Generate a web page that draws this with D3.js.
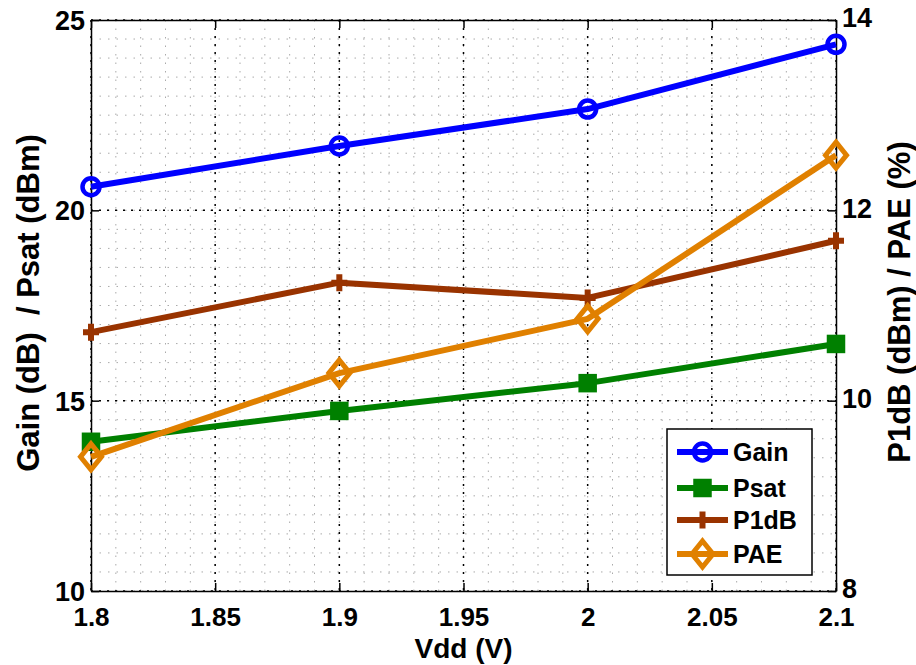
<!DOCTYPE html>
<html><head><meta charset="utf-8">
<script src="https://cdn.jsdelivr.net/npm/d3@7"></script>
<style>body{margin:0;background:#fff}svg{display:block}text{font-family:"Liberation Sans",Arial,sans-serif;font-weight:bold;fill:#000}</style>
</head><body>
<script>
const vdd = [1.8, 1.9, 2.0, 2.1];
const gain = [20.62, 21.69, 22.66, 24.36];
const psat = [13.92, 14.73, 15.46, 16.49];
const p1db = [10.72, 11.24, 11.08, 11.68];
const pae = [9.41, 10.29, 10.86, 12.58];
const xTicks = [1.8, 1.85, 1.9, 1.95, 2.0, 2.05, 2.1];
const xTickLabels = ["1.8", "1.85", "1.9", "1.95", "2", "2.05", "2.1"];
const yLeftTicks = [10, 15, 20, 25];
const yRightTicks = [8, 10, 12, 14];
const seriesNames = ["Gain", "Psat", "P1dB", "PAE"];
const colors = ["#0000ff", "#008000", "#993300", "#e08000"];

const W = 916, H = 665;
const L = 91, R = 836, T = 20, B = 591;
const svg = d3.select("body").append("svg").attr("width", W).attr("height", H);

const x = d3.scaleLinear().domain([1.8, 2.1]).range([L, R]);
const yL = d3.scaleLinear().domain([10, 25]).range([B, T]);
const yR = d3.scaleLinear().domain([8, 14]).range([B, T]);

// minor grid
const g = svg.append("g");
const minorX = d3.range(0, 31).map(i => 1.8 + i * 0.01);
const minorY = d3.range(0, 31).map(i => 10 + i * 0.5);
g.selectAll(".mx").data(minorX).enter().append("line")
  .attr("x1", d => x(d)).attr("x2", d => x(d)).attr("y1", T).attr("y2", B)
  .attr("stroke", "#aaa").attr("stroke-width", 1).attr("stroke-dasharray", "1.5,7");
g.selectAll(".my").data(minorY).enter().append("line")
  .attr("y1", d => yL(d)).attr("y2", d => yL(d)).attr("x1", L).attr("x2", R)
  .attr("stroke", "#aaa").attr("stroke-width", 1).attr("stroke-dasharray", "1.5,7");
// major grid
g.selectAll(".Mx").data(xTicks).enter().append("line")
  .attr("x1", d => x(d)).attr("x2", d => x(d)).attr("y1", T).attr("y2", B)
  .attr("stroke", "#000").attr("stroke-width", 1.5).attr("stroke-dasharray", "2,6");
g.selectAll(".My").data(yLeftTicks).enter().append("line")
  .attr("y1", d => yL(d)).attr("y2", d => yL(d)).attr("x1", L).attr("x2", R)
  .attr("stroke", "#000").attr("stroke-width", 1.5).attr("stroke-dasharray", "2,6");

// axes
const axB = svg.append("g").attr("transform", `translate(0,${B})`)
  .call(d3.axisBottom(x).tickValues(xTicks).tickFormat(d => xTickLabels[xTicks.findIndex(v => Math.abs(v - d) < 1e-9)]).tickSizeInner(-8).tickSizeOuter(0).tickPadding(17));
const axT = svg.append("g").attr("transform", `translate(0,${T})`)
  .call(d3.axisTop(x).tickValues(xTicks).tickFormat("").tickSizeInner(-8).tickSizeOuter(0));
const axLf = svg.append("g").attr("transform", `translate(${L},0)`)
  .call(d3.axisLeft(yL).tickValues(yLeftTicks).tickFormat(d3.format("d")).tickSizeInner(-8).tickSizeOuter(0).tickPadding(6));
const axRt = svg.append("g").attr("transform", `translate(${R},0)`)
  .call(d3.axisRight(yR).tickValues(yRightTicks).tickFormat(d3.format("d")).tickSizeInner(-8).tickSizeOuter(0).tickPadding(6));
[axB, axT, axLf, axRt].forEach(a => {
  a.select(".domain").attr("stroke", "#000").attr("stroke-width", 1.5);
  a.selectAll(".tick line").attr("stroke", "#000").attr("stroke-width", 1.5);
  a.selectAll("text").style("font-size", "27px").style("font-family", "Liberation Sans, Arial, sans-serif").style("font-weight", "bold").attr("fill", "#000");
});
axB.selectAll(".tick text").style("font-size", "26px");
axLf.selectAll(".tick text").attr("dy", "0.35em");
axRt.selectAll(".tick text").attr("dy", "0.25em");

// axis titles
svg.append("text").attr("x", (L + R) / 2).attr("y", 658).attr("text-anchor", "middle")
  .style("font-size", "28px").text("Vdd (V)");
svg.append("text").attr("transform", `translate(39,303) rotate(-90)`).attr("text-anchor", "middle")
  .style("font-size", "31px").style("white-space", "pre").attr("xml:space", "preserve").text("Gain (dB)  / Psat (dBm)");
svg.append("text").attr("transform", `translate(910,302) rotate(-90)`).attr("text-anchor", "middle")
  .style("font-size", "31px").text("P1dB (dBm) / PAE (%)");

// series
const data = [
  { name: "Gain", vals: gain, y: yL, marker: "circle" },
  { name: "Psat", vals: psat, y: yL, marker: "square" },
  { name: "P1dB", vals: p1db, y: yR, marker: "plus" },
  { name: "PAE", vals: pae, y: yR, marker: "diamond" }
];

function drawMarker(sel, type, color, cx, cy) {
  if (type === "circle") {
    sel.append("circle").attr("cx", cx).attr("cy", cy).attr("r", 8.5)
      .attr("fill", "none").attr("stroke", color).attr("stroke-width", 4.5);
  } else if (type === "square") {
    sel.append("rect").attr("x", cx - 8).attr("y", cy - 8).attr("width", 16).attr("height", 16)
      .attr("fill", color).attr("stroke", color).attr("stroke-width", 2.5);
  } else if (type === "plus") {
    sel.append("path").attr("d", `M${cx - 8},${cy}H${cx + 8}M${cx},${cy - 8.5}V${cy + 8.5}`)
      .attr("stroke", color).attr("stroke-width", 6).attr("fill", "none");
  } else if (type === "diamond") {
    sel.append("path").attr("d", `M${cx},${cy - 13}L${cx + 10.5},${cy}L${cx},${cy + 13}L${cx - 10.5},${cy}Z`)
      .attr("fill", "none").attr("stroke", color).attr("stroke-width", 5).attr("stroke-linejoin", "miter");
  }
}

data.forEach((s, i) => {
  const line = d3.line().x((d, j) => x(vdd[j])).y(d => s.y(d));
  const gs = svg.append("g");
  gs.append("path").datum(s.vals).attr("d", line).attr("fill", "none")
    .attr("stroke", colors[i]).attr("stroke-width", 6).attr("stroke-linejoin", "round");
  s.vals.forEach((v, j) => drawMarker(gs, s.marker, colors[i], x(vdd[j]), s.y(v)));
});

// legend
const lg = svg.append("g");
lg.append("rect").attr("x", 667).attr("y", 429).attr("width", 145).attr("height", 146)
  .attr("fill", "#fff").attr("stroke", "#000").attr("stroke-width", 1.5);
const legY = [452, 488, 520, 554];
data.forEach((s, i) => {
  lg.append("line").attr("x1", 677).attr("x2", 728).attr("y1", legY[i]).attr("y2", legY[i])
    .attr("stroke", colors[i]).attr("stroke-width", 6);
  drawMarker(lg, s.marker, colors[i], 702.5, legY[i]);
  lg.append("text").attr("x", 733).attr("y", legY[i]).attr("dy", "0.35em")
    .style("font-size", "25px").text(seriesNames[i]);
});
</script>
</body></html>
